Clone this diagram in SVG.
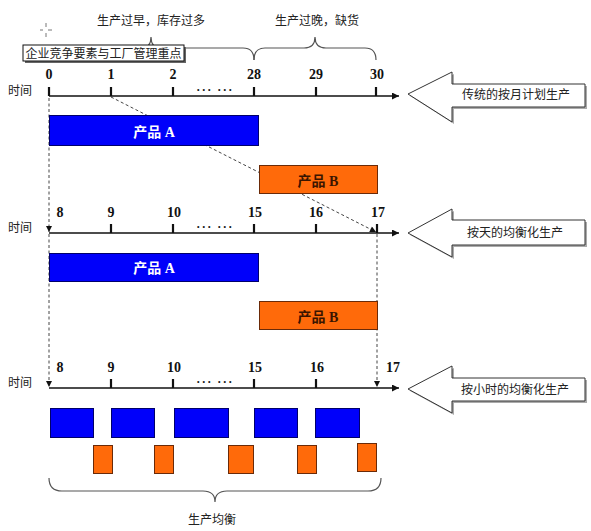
<svg xmlns="http://www.w3.org/2000/svg" width="591" height="531" viewBox="0 0 591 531">
<defs>
<style>
.cn{font-family:"Noto Sans CJK SC","Noto Sans",sans-serif;font-size:12px;fill:#222}
.num{font-family:"Liberation Serif","Times New Roman",serif;font-weight:bold;font-size:14px;fill:#111;text-anchor:middle}
.dots{font-family:"Liberation Serif",serif;font-weight:bold;font-size:12px;fill:#111;text-anchor:middle;letter-spacing:1.5px}
.axis{stroke:#111;stroke-width:1.5;fill:none}
.tick{stroke:#111;stroke-width:2.2}
.dash{stroke:#444;stroke-width:1;stroke-dasharray:3,2.5;fill:none}
.brace{stroke:#555;stroke-width:1.2;fill:none}
.blue{fill:#0000fa;stroke:#00006a;stroke-width:1}
.orange{fill:#ff6a0a;stroke:#6a2a08;stroke-width:1}
.bigarrow{fill:#fff;stroke:#333;stroke-width:1}
.shadow{fill:#aaa}
.lblA{font-family:"Liberation Serif","Noto Sans CJK SC",serif;font-weight:bold;font-size:14px;fill:#fff;text-anchor:middle}
.lblB{font-family:"Liberation Serif","Noto Sans CJK SC",serif;font-weight:bold;font-size:14px;fill:#3a1500;text-anchor:middle}
</style>
<marker id="ah" viewBox="0 0 10 10" refX="10" refY="5" markerWidth="8" markerHeight="7" markerUnits="userSpaceOnUse" orient="auto">
<path d="M0,0 L10,5 L0,10 z" fill="#111"/>
</marker>
<marker id="dh" viewBox="0 0 10 10" refX="10" refY="5" markerWidth="7" markerHeight="6" markerUnits="userSpaceOnUse" orient="auto">
<path d="M0,0 L10,5 L0,10 z" fill="#111"/>
</marker>
</defs>
<rect width="591" height="531" fill="#fff"/>

<!-- crosshair -->
<g id="crosshair" stroke="#777" stroke-width="1">
<line x1="40" y1="30" x2="43" y2="30"/><line x1="48" y1="30" x2="52" y2="30"/>
<line x1="46" y1="23" x2="46" y2="27"/><line x1="46" y1="33" x2="46" y2="37"/>
</g>

<!-- top braces -->
<g id="top-braces">
<path class="brace" d="M49,60 Q49,48 61,48 L141,48 Q151,48 151,37 Q151,48 161,48 L243,48 Q254,48 254,60"/>
<path class="brace" d="M254,60 Q254,48 265,48 L304,48 Q315,48 315,37 Q315,48 326,48 L365,48 Q376,48 376,60"/>
<text class="cn" x="151" y="25" text-anchor="middle" font-size="11.5">生产过早，库存过多</text>
<text class="cn" x="317" y="25" text-anchor="middle" font-size="11.5">生产过晚，缺货</text>
</g>

<!-- title box -->
<g id="title-box">
<rect x="25" y="47" width="161" height="16" fill="#666"/>
<rect x="23" y="45" width="161" height="16" fill="#fff" stroke="#111" stroke-width="1"/>
<text class="cn" x="103.5" y="57.5" text-anchor="middle" font-size="12.2" fill="#000">企业竞争要素与工厂管理重点</text>
</g>

<!-- connectors -->
<g id="connectors">
<line class="dash" x1="49" y1="98" x2="49" y2="232" marker-end="url(#dh)"/>
<line class="dash" x1="49" y1="234" x2="49" y2="387" marker-end="url(#dh)"/>
<line class="dash" x1="111" y1="97" x2="376" y2="232" marker-end="url(#dh)"/>
<line class="dash" x1="377" y1="234" x2="377" y2="387" marker-end="url(#dh)"/>
</g>

<!-- row 1 timeline -->
<g id="timeline-1">
<text class="cn" x="8" y="95">时间</text>
<line class="axis" x1="49" y1="96" x2="399" y2="96" marker-end="url(#ah)"/>
<line class="tick" x1="49" y1="87" x2="49" y2="96"/>
<line class="tick" x1="111" y1="87" x2="111" y2="96"/>
<line class="tick" x1="173" y1="87" x2="173" y2="96"/>
<line class="tick" x1="254" y1="87" x2="254" y2="96"/>
<line class="tick" x1="316" y1="87" x2="316" y2="96"/>
<line class="tick" x1="376" y1="87" x2="376" y2="96"/>
<text class="num" x="49" y="79">0</text>
<text class="num" x="111" y="79">1</text>
<text class="num" x="173" y="79">2</text>
<text class="num" x="254" y="79">28</text>
<text class="num" x="316" y="79">29</text>
<text class="num" x="377" y="79">30</text>
<text class="dots" x="215" y="94">··· ···</text>
</g>

<g id="arrow-1">
<polygon class="shadow" points="410,96 454,74 454,86 587,86 587,109 454,109 454,124"/>
<polygon class="bigarrow" points="408,94 452,72 452,84 585,84 585,107 452,107 452,122"/>
<text class="cn" x="516" y="99" text-anchor="middle">传统的按月计划生产</text>
</g>

<g id="bar-1A">
<rect class="blue" x="49.5" y="115.5" width="209" height="30"/>
<text class="lblA" x="154" y="137">产品 A</text>
</g>
<g id="bar-1B">
<rect class="orange" x="259.5" y="165.5" width="118" height="28"/>
<text class="lblB" x="318" y="186">产品 B</text>
</g>

<!-- row 2 timeline -->
<g id="timeline-2">
<text class="cn" x="8" y="232">时间</text>
<line class="axis" x1="49" y1="233" x2="399" y2="233" marker-end="url(#ah)"/>
<line class="tick" x1="111" y1="224" x2="111" y2="233"/>
<line class="tick" x1="173" y1="224" x2="173" y2="233"/>
<line class="tick" x1="254" y1="224" x2="254" y2="233"/>
<line class="tick" x1="316" y1="224" x2="316" y2="233"/>
<line class="tick" x1="377" y1="224" x2="377" y2="233"/>
<text class="num" x="60" y="217">8</text>
<text class="num" x="111" y="217">9</text>
<text class="num" x="174" y="217">10</text>
<text class="num" x="255" y="217">15</text>
<text class="num" x="316" y="217">16</text>
<text class="num" x="378" y="217">17</text>
<text class="dots" x="215" y="231">··· ···</text>
</g>

<g id="arrow-2">
<polygon class="shadow" points="410,235 454,211 454,222 587,222 587,247 454,247 454,259"/>
<polygon class="bigarrow" points="408,233 452,209 452,220 585,220 585,245 452,245 452,257"/>
<text class="cn" x="515" y="237" text-anchor="middle">按天的均衡化生产</text>
</g>

<g id="bar-2A">
<rect class="blue" x="49.5" y="253.5" width="209" height="28"/>
<text class="lblA" x="154" y="273">产品 A</text>
</g>
<g id="bar-2B">
<rect class="orange" x="259.5" y="301.5" width="118" height="28"/>
<text class="lblB" x="318" y="322">产品 B</text>
</g>

<!-- row 3 timeline -->
<g id="timeline-3">
<text class="cn" x="8" y="387">时间</text>
<line class="axis" x1="49" y1="388" x2="399" y2="388" marker-end="url(#ah)"/>
<line class="tick" x1="111" y1="379" x2="111" y2="388"/>
<line class="tick" x1="173" y1="379" x2="173" y2="388"/>
<line class="tick" x1="254" y1="379" x2="254" y2="388"/>
<line class="tick" x1="316" y1="379" x2="316" y2="388"/>
<text class="num" x="60" y="372">8</text>
<text class="num" x="111" y="372">9</text>
<text class="num" x="174" y="372">10</text>
<text class="num" x="255" y="372">15</text>
<text class="num" x="317" y="372">16</text>
<text class="num" x="393" y="372">17</text>
<text class="dots" x="215" y="386">··· ···</text>
</g>

<g id="arrow-3">
<polygon class="shadow" points="410,391 454,368 454,380 587,380 587,403 454,403 454,415"/>
<polygon class="bigarrow" points="408,389 452,366 452,378 585,378 585,401 452,401 452,413"/>
<text class="cn" x="515" y="394" text-anchor="middle">按小时的均衡化生产</text>
</g>

<g id="hourly-blue">
<rect class="blue" x="50.5" y="408.5" width="43" height="29"/>
<rect class="blue" x="111.5" y="408.5" width="43" height="29"/>
<rect class="blue" x="174.5" y="408.5" width="54" height="29"/>
<rect class="blue" x="254.5" y="408.5" width="43" height="29"/>
<rect class="blue" x="315.5" y="408.5" width="44" height="29"/>
</g>
<g id="hourly-orange">
<rect class="orange" x="93.5" y="445.5" width="19" height="28"/>
<rect class="orange" x="154.5" y="445.5" width="19" height="28"/>
<rect class="orange" x="228.5" y="445.5" width="25" height="28"/>
<rect class="orange" x="297.5" y="445.5" width="19" height="28"/>
<rect class="orange" x="357.5" y="443.5" width="19" height="28"/>
</g>

<g id="bottom-brace">
<path class="brace" d="M49,478 Q49,491 62,491 L203,491 Q215,491 215,502 Q215,491 227,491 L368,491 Q381,491 381,478"/>
<text class="cn" x="212" y="524" text-anchor="middle">生产均衡</text>
</g>
</svg>
